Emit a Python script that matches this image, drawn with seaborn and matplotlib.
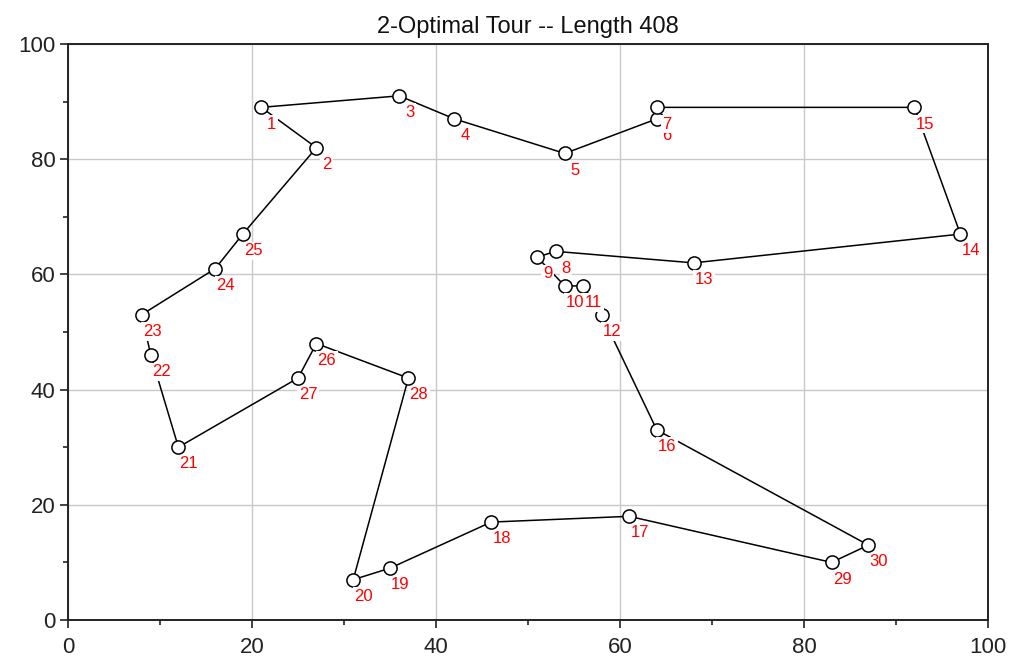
import matplotlib
matplotlib.use("Agg")
import matplotlib.pyplot as plt
import seaborn as sns
import pandas as pd

# city coordinates, city n is at index n-1
city_x = [21, 27, 36, 42, 54, 64, 64, 53, 51, 54, 56, 58, 68, 97, 92,
          64, 61, 46, 35, 31, 12, 9, 8, 16, 19, 27, 25, 37, 83, 87]
city_y = [89, 82, 91, 87, 81, 87, 89, 64, 63, 58, 58, 53, 62, 67, 89,
          33, 18, 17, 9, 7, 30, 46, 53, 61, 67, 48, 42, 42, 10, 13]
city_ids = list(range(1, 31))

# visiting order of the 2-opt tour (closed back to city 1)
tour = [1, 3, 4, 5, 6, 7, 15, 14, 13, 8, 9, 10, 11, 12, 16, 30, 29, 17,
        18, 19, 20, 28, 26, 27, 21, 22, 23, 24, 25, 2, 1]
tour_length = 408

cities = pd.DataFrame({"id": city_ids, "x": city_x, "y": city_y})
path = cities.set_index("id").loc[tour].reset_index()

sns.set_theme(style="whitegrid")
plt.rcParams["font.family"] = ["Liberation Sans", "DejaVu Sans"]

fig = plt.figure(figsize=(10.12, 6.71), dpi=100)
ax = fig.add_axes([68 / 1012, 51 / 671, 920 / 1012, 576 / 671])

sns.lineplot(data=path, x="x", y="y", sort=False, estimator=None,
             color="black", linewidth=1.1, ax=ax, zorder=2)
sns.scatterplot(data=cities, x="x", y="y", s=90, color="white",
                edgecolor="black", linewidth=1.1, ax=ax, zorder=3)

for cid, cx, cy in zip(city_ids, city_x, city_y):
    ax.annotate(str(cid), (cx, cy), xytext=(7.5, -12),
                textcoords="offset points", ha="center", va="center",
                color="red", fontsize=12, zorder=4 + cid,
                bbox=dict(boxstyle="square,pad=0.1", fc="white", ec="none"))

ax.set_xlim(0, 100)
ax.set_ylim(0, 100)
ax.set_xticks(range(0, 101, 20))
ax.set_yticks(range(0, 101, 20))
ax.set_xticks(range(10, 100, 20), minor=True)
ax.set_yticks(range(10, 100, 20), minor=True)
ax.grid(True, which="major", color="#c8c8c8", linewidth=1)
ax.grid(False, which="minor")
ax.tick_params(which="major", direction="out", length=6, width=1.2,
               color="#222222", labelsize=16, labelcolor="#222222",
               left=True, bottom=True, pad=3)
ax.tick_params(axis="x", which="major", pad=6)
ax.tick_params(which="minor", direction="out", length=3.5, width=1.2,
               color="#222222", left=True, bottom=True)
for side in ["left", "right", "top", "bottom"]:
    ax.spines[side].set_visible(True)
    ax.spines[side].set_color("#222222")
    ax.spines[side].set_linewidth(1.4)
ax.set_xlabel("")
ax.set_ylabel("")
ax.set_title(f"2-Optimal Tour -- Length {tour_length}", fontsize=17,
             color="#111111", pad=8)

fig.savefig("out.png", dpi=100)
